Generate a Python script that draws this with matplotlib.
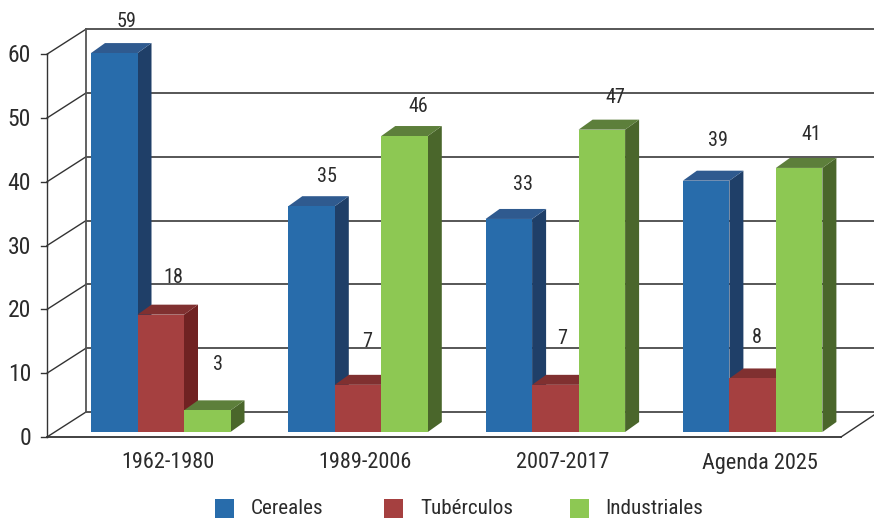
import matplotlib
matplotlib.use("Agg")
import matplotlib.pyplot as plt
from matplotlib import font_manager as fm
from matplotlib.patches import Polygon, Rectangle

# Chart data
periods = ["1962-1980", "1989-2006", "2007-2017", "Agenda 2025"]
series_names = ["Cereales", "Tubérculos", "Industriales"]
cereales = [59, 35, 33, 39]
tuberculos = [18, 7, 7, 8]
industriales = [3, 46, 47, 41]
y_ticks = [0, 10, 20, 30, 40, 50, 60]

# Three shades per series: front, side, top
palette = [
    ("#286CAB", "#1F3F68", "#2F5A8F"),
    ("#A54040", "#702222", "#803030"),
    ("#8DC853", "#4A662B", "#5D7F3B"),
]

W, H = 874, 518
names = {f.name for f in fm.fontManager.ttflist}
FONT = next((n for n in ("Liberation Sans Narrow", "Roboto Condensed", "Roboto") if n in names),
            "Liberation Sans")
TXT = "#2b2b2b"

fig = plt.figure(figsize=(W / 100, H / 100), dpi=100)
ax = fig.add_axes([0, 0, 1, 1])
ax.axis("off")

# One x unit is a category step and one y unit is one percentage point
X_STEP = 197.3
Y_STEP = 6.38
X_ORIGIN = 160.75
Y_ORIGIN = 429.5
ax.set_xlim(-X_ORIGIN / X_STEP, (W - X_ORIGIN) / X_STEP)
ax.set_ylim((Y_ORIGIN - H) / Y_STEP, Y_ORIGIN / Y_STEP)

dx = lambda px: px / X_STEP
dy = lambda px: px / Y_STEP

# Frame geometry, as offsets from the bar origin
FLOOR = dy(-7.5)
WALL_DX, WALL_DY = dx(39), dy(25)
LEFT = dx(47 - X_ORIGIN)
RIGHT = dx(841 - X_ORIGIN)
EDGE = dx(W - X_ORIGIN)
FRAME = "#333333"

for v in y_ticks:
    y = v + FLOOR
    ax.plot([LEFT + WALL_DX, EDGE], [y + WALL_DY] * 2, color="#3a3a3a", lw=1.2, zorder=1)
    ax.plot([LEFT, LEFT + WALL_DX], [y, y + WALL_DY], color=FRAME, lw=1.0, zorder=1)
    ax.plot([LEFT - dx(6), LEFT], [y, y], color=FRAME, lw=1.0, zorder=1)
    ax.text(LEFT - dx(16), y - dy(1.5), str(v), ha="right", va="center", fontsize=17,
            family=FONT, color=TXT)

top_y = y_ticks[-1] + FLOOR
ax.plot([LEFT, LEFT], [FLOOR, top_y], color=FRAME, lw=1.0, zorder=1)
ax.plot([LEFT + WALL_DX] * 2, [FLOOR + WALL_DY, top_y + WALL_DY], color="#555555", lw=1.3, zorder=1)
ax.plot([LEFT, RIGHT], [FLOOR, FLOOR], color=FRAME, lw=1.3, zorder=1)
ax.plot([RIGHT, RIGHT + dx(33)], [FLOOR, FLOOR + dy(22)], color=FRAME, lw=1.0, zorder=1)

# Bars, left to right so each front face covers its neighbour's side
BAR_W = dx(46.5)
BASE = dy(-2.5)
DEPTH_X, DEPTH_Y = dx(14), dy(10)
all_series = [cereales, tuberculos, industriales]

# Pixel nudges of the value labels from the top centre of their bars
label_nudges = [
    [(12, 32), (15, 30), (14, 34), (12, 40)],
    [(13, 37), (9, 43), (7, 46), (4, 41)],
    [(11, 46), (14, 30), (14, 32), (12, 33)],
]

z = 3
for i in range(len(periods)):
    for j, vals in enumerate(all_series):
        v = vals[i]
        x0 = i + (j - 1.5) * BAR_W
        x1 = x0 + BAR_W
        front, side, top = palette[j]
        ax.add_patch(Polygon([(x1, BASE), (x1 + DEPTH_X, BASE + DEPTH_Y),
                              (x1 + DEPTH_X, v + DEPTH_Y), (x1, v)],
                             closed=True, fc=side, ec="none", zorder=z))
        ax.add_patch(Polygon([(x0, v), (x0 + DEPTH_X, v + DEPTH_Y),
                              (x1 + DEPTH_X, v + DEPTH_Y), (x1, v)],
                             closed=True, fc=top, ec="none", zorder=z))
        ax.add_patch(Rectangle((x0, BASE), BAR_W, v - BASE, fc=front, ec="none", zorder=z))
        z += 1
        nx, ny = label_nudges[j][i]
        ax.text((x0 + x1) / 2 + dx(nx), v + dy(ny), str(v), ha="center", va="center",
                fontsize=14.5, family=FONT, color=TXT, zorder=50)

# Category labels
for i, name in enumerate(periods):
    ax.text(i + dx(7), FLOOR - dy(26), name, ha="center", va="center",
            fontsize=16, family=FONT, color=TXT)

# Legend
legend_swatches = [215, 384, 570]
legend_labels = [251, 420, 605]
legend_y = Y_ORIGIN - 509
for sx, tx, name, shades in zip(legend_swatches, legend_labels, series_names, palette):
    ax.add_patch(Rectangle((dx(sx - X_ORIGIN), (Y_ORIGIN - 518) / Y_STEP), dx(19), dy(19),
                           fc=shades[0], ec="none", zorder=2))
    ax.text(dx(tx - X_ORIGIN), legend_y / Y_STEP, name, ha="left", va="center",
            fontsize=15.2, family=FONT, color=TXT)

fig.savefig("out.png", dpi=100, facecolor="white")
